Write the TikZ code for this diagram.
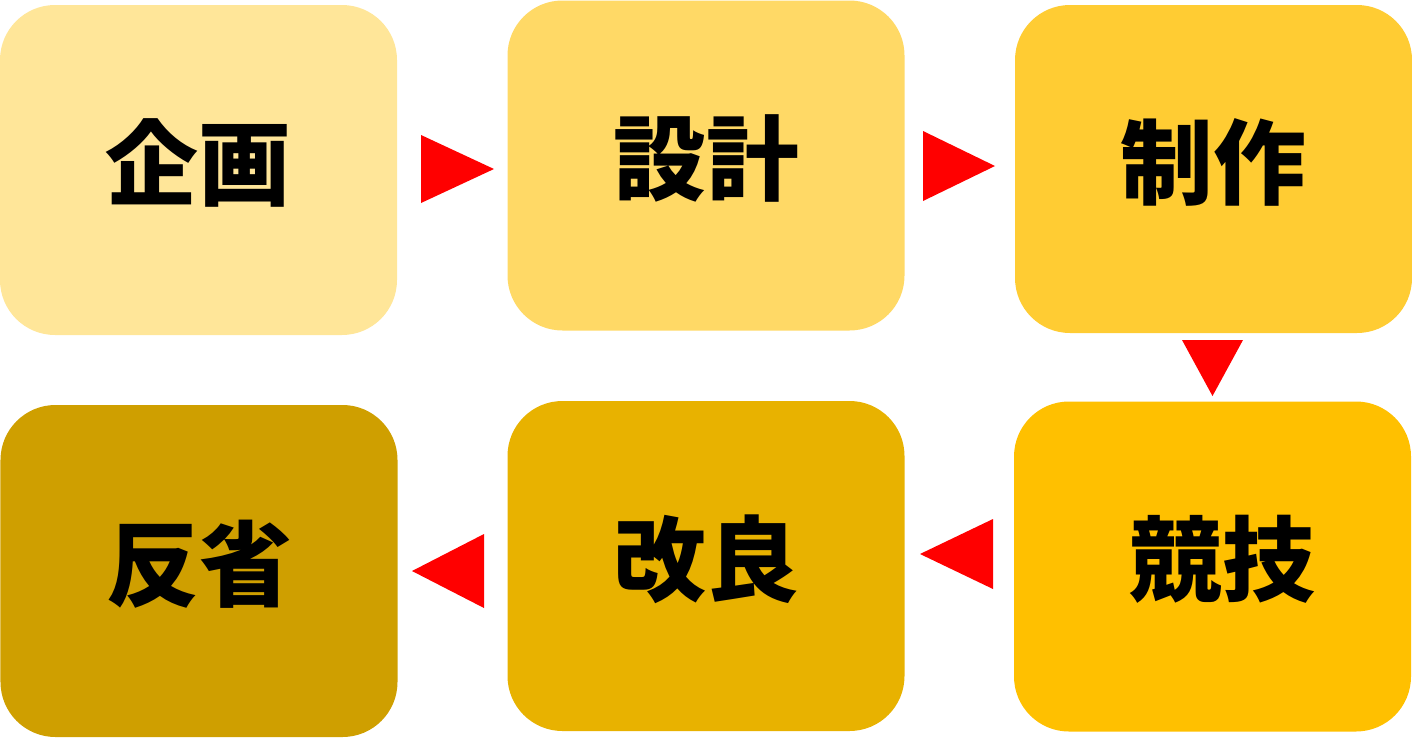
\documentclass[tikz,border=0pt]{standalone}
\usepackage{fontspec}
\newfontfamily\jpfont{Noto Sans CJK JP}
\usetikzlibrary{calc}
\definecolor{plancol}{HTML}{FFE699}
\definecolor{designcol}{HTML}{FFD966}
\definecolor{makecol}{HTML}{FFCC33}
\definecolor{contestcol}{HTML}{FFC000}
\definecolor{improvecol}{HTML}{E8B200}
\definecolor{reviewcol}{HTML}{CF9F00}
\tikzset{
  stage/.style={rectangle, rounded corners=27.5mm, minimum width=198.5mm, minimum height=165mm,
    inner sep=0pt, text height=38.7mm, text depth=10.5mm,
    font=\jpfont\bfseries\fontsize{132}{150}\selectfont, text=black},
  arrowtri/.style={fill=red, draw=none}
}
\begin{document}
\begin{tikzpicture}[x=0.5mm, y=-0.5mm]
			%%%%% START %%%%%
			\useasboundingbox (0,0) rectangle (1412,737);
			
			\node[stage, fill=plancol] (plan) at (198.5, 170) {企画};
			\node[stage, fill=designcol] (design) at (706, 165.5) {設計};
			\node[stage, fill=makecol, minimum height=164mm] (make) at (1213.5, 169) {制作};
			
			\node[stage, fill=contestcol] (contest) at (1212.5, 566.5) {\kern10mm競技};
			\node[stage, fill=improvecol] (improve) at (706, 566) {改良};
			\node[stage, fill=reviewcol, minimum height=166mm] (review) at (199, 571) {反省};
			
			\coordinate (t1) at (457.5, 169);
			\coordinate (t2) at (959, 166);
			\coordinate (t3) at (1212.5, 368);
			\coordinate (t4) at (956.5, 554);
			\coordinate (t5) at (448, 571);
			
			\fill[arrowtri] (t1) ++(-36.5,-34) -- ++(73,34) -- ++(-73,34) -- cycle;
			\fill[arrowtri] (t2) ++(-36,-35) -- ++(72,35) -- ++(-72,35) -- cycle;
			\fill[arrowtri] (t3) ++(-30.5,-28) -- ++(61,0) -- ++(-30.5,56) -- cycle;
			\fill[arrowtri] (t4) ++(36.5,-35) -- ++(-73,35) -- ++(73,35) -- cycle;
			\fill[arrowtri] (t5) ++(36,-37) -- ++(-72,37) -- ++(72,37) -- cycle;
			
			%%%%% END %%%%%
\end{tikzpicture}
\end{document}
